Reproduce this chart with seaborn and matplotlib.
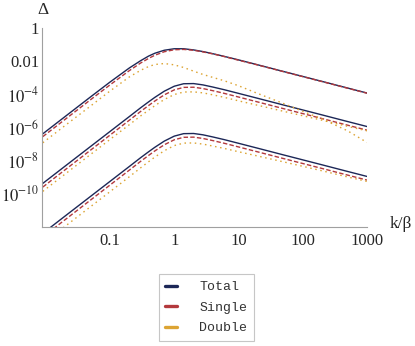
import numpy as np
import pandas as pd
import seaborn as sns
import matplotlib.pyplot as plt
from matplotlib.lines import Line2D
from matplotlib.ticker import LogLocator, NullFormatter

# k/beta sample points
k_values = [0.009, 0.02, 0.05, 0.1, 0.2, 0.3, 0.4, 0.5, 0.7, 1, 1.4, 2, 2.8,
            4, 6, 10, 20, 50, 100, 200, 500, 1000]

# log10(Delta), upper family
total_hi = [-6.38, -5.34, -4.15, -3.26, -2.41, -1.97, -1.69, -1.52, -1.34, -1.25, -1.25,
            -1.32, -1.42, -1.55, -1.71, -1.92, -2.22, -2.62, -2.92, -3.22, -3.62, -3.92]
single_hi = [-6.55, -5.51, -4.32, -3.43, -2.57, -2.11, -1.83, -1.64, -1.43, -1.31, -1.29,
             -1.34, -1.44, -1.56, -1.72, -1.94, -2.23, -2.63, -2.93, -3.23, -3.63, -3.93]
double_hi = [-6.92, -5.88, -4.70, -3.80, -2.95, -2.55, -2.32, -2.20, -2.14, -2.22, -2.38,
             -2.60, -2.80, -2.98, -3.18, -3.48, -3.95, -4.55, -5.02, -5.48, -6.20, -6.90]

# middle family
total_mid = [-9.37, -8.33, -7.14, -6.24, -5.34, -4.81, -4.45, -4.18, -3.81, -3.51, -3.36,
             -3.35, -3.43, -3.56, -3.72, -3.94, -4.24, -4.64, -4.94, -5.24, -5.64, -5.94]
single_mid = [-9.59, -8.55, -7.36, -6.46, -5.56, -5.03, -4.67, -4.40, -4.03, -3.73, -3.58,
              -3.57, -3.65, -3.78, -3.94, -4.16, -4.46, -4.86, -5.16, -5.46, -5.86, -6.16]
double_mid = [-9.85, -8.81, -7.62, -6.72, -5.83, -5.30, -4.95, -4.68, -4.31, -4.01, -3.86,
              -3.85, -3.91, -4.03, -4.18, -4.39, -4.66, -5.02, -5.29, -5.56, -5.93, -6.20]

# lower family
total_lo = [-12.38, -11.34, -10.15, -9.25, -8.35, -7.82, -7.46, -7.19, -6.82, -6.52, -6.37,
            -6.36, -6.44, -6.57, -6.73, -6.95, -7.25, -7.65, -7.95, -8.25, -8.65, -8.95]
single_lo = [-12.60, -11.56, -10.37, -9.47, -8.57, -8.04, -7.68, -7.41, -7.04, -6.74, -6.59,
             -6.58, -6.66, -6.79, -6.95, -7.17, -7.47, -7.87, -8.17, -8.47, -8.87, -9.17]
double_lo = [-13.00, -11.96, -10.77, -9.87, -8.97, -8.43, -8.06, -7.78, -7.40, -7.09, -6.94,
             -6.93, -7.00, -7.12, -7.26, -7.46, -7.72, -8.07, -8.34, -8.61, -8.98, -9.25]

kinds = ["Total", "Single", "Double"]
colors = {"Total": "#1c2757", "Single": "#b3393d", "Double": "#dca433"}

families = {
    "hi": {"Total": total_hi, "Single": single_hi, "Double": double_hi},
    "mid": {"Total": total_mid, "Single": single_mid, "Double": double_mid},
    "lo": {"Total": total_lo, "Single": single_lo, "Double": double_lo},
}

rows = []
for fam, series in families.items():
    for kind, logs in series.items():
        for k, v in zip(k_values, logs):
            rows.append({"k": k, "delta": 10.0 ** v, "kind": kind, "family": fam})
df = pd.DataFrame(rows)

sns.set_style("white")
plt.rcParams["font.family"] = ["Liberation Serif", "DejaVu Serif"]
plt.rcParams["mathtext.fontset"] = "stix"

fig = plt.figure(figsize=(4.15, 3.46), dpi=100)
ax = fig.add_axes([0.1012, 0.3439, 0.7831, 0.5751])

sns.lineplot(data=df, x="k", y="delta", hue="kind", style="kind", units="family",
             estimator=None, hue_order=kinds, style_order=kinds, palette=colors,
             dashes={"Total": "", "Single": (3.2, 1.6), "Double": (1.1, 2.6)},
             linewidth=1.0, legend=False, ax=ax)

ax.set_xscale("log")
ax.set_yscale("log")
ax.set_xlim(0.00875, 1000)
ax.set_ylim(1e-12, 1)
ax.set_xlabel("")
ax.set_ylabel("")

for side in ["top", "right"]:
    ax.spines[side].set_visible(False)
for side in ["left", "bottom"]:
    ax.spines[side].set_color("#a0a0a0")
    ax.spines[side].set_linewidth(0.8)

ax.set_xticks([0.1, 1, 10, 100, 1000], ["0.1", "1", "10", "100", "1000"])
ax.set_yticks([1, 1e-2, 1e-4, 1e-6, 1e-8, 1e-10],
              ["1", "0.01", r"$10^{-4}$", r"$10^{-6}$", r"$10^{-8}$", r"$10^{-10}$"])
ax.xaxis.set_minor_locator(LogLocator(base=10, subs=np.arange(1, 10), numticks=50))
ax.yaxis.set_minor_locator(LogLocator(base=10, subs=(1.0,), numticks=50))
ax.xaxis.set_minor_formatter(NullFormatter())
ax.yaxis.set_minor_formatter(NullFormatter())
ax.tick_params(which="both", direction="in", color="#a0a0a0", width=0.7)
ax.tick_params(which="major", length=4, labelsize=12, pad=2)
ax.tick_params(which="minor", length=2)
ax.tick_params(axis="x", which="major", pad=4)
ax.grid(False)

ax.text(0.003, 1.09, "Δ", transform=ax.transAxes, ha="center", va="center", fontsize=12.5)
ax.text(1.07, 0.015, "k/β", transform=ax.transAxes, ha="left", va="center", fontsize=12.5)

handles = [Line2D([0], [0], color=colors[k], lw=2.4) for k in kinds]
leg = fig.legend(handles, kinds, loc="center", bbox_to_anchor=(0.497, 0.111),
                 prop={"family": "Liberation Mono", "size": 9.5},
                 handlelength=0.9, handletextpad=1.7, labelspacing=0.62,
                 borderpad=0.5, frameon=True, fancybox=False)
leg.get_frame().set_edgecolor("#b8b8b8")
leg.get_frame().set_linewidth(0.8)
for t in leg.get_texts():
    t.set_color("#333333")

fig.savefig("out.png", dpi=100)
